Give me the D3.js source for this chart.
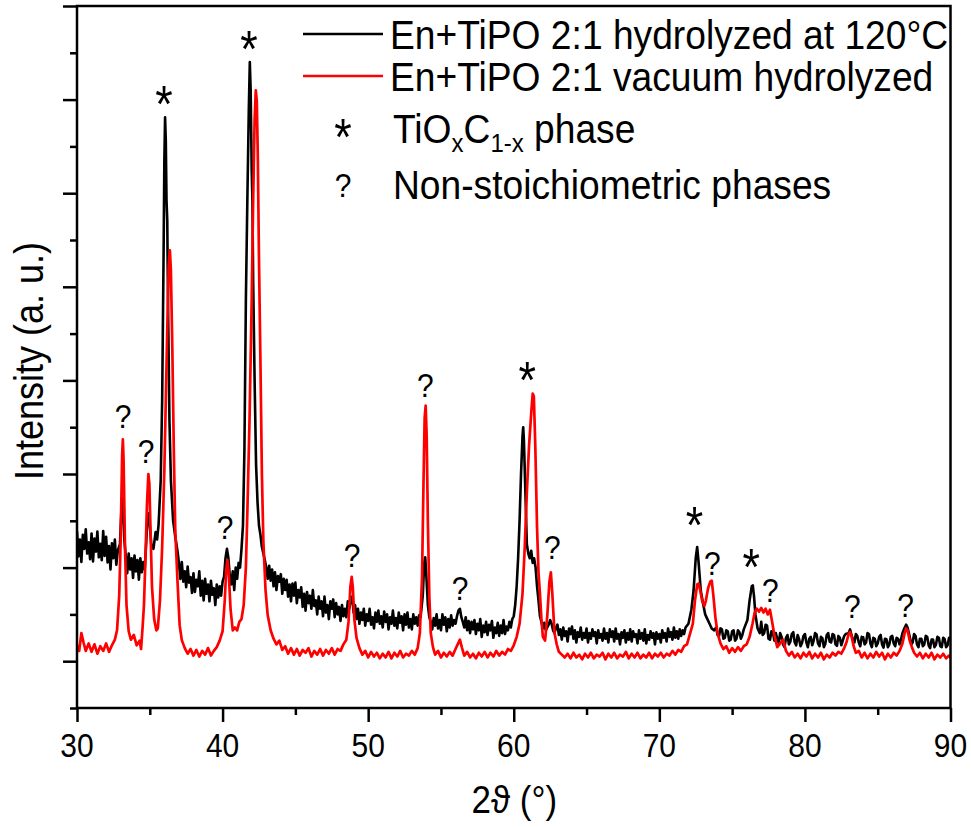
<!DOCTYPE html>
<html><head><meta charset="utf-8">
<script src="https://cdn.jsdelivr.net/npm/d3@7"></script>
<style>body{margin:0;background:#fff;} svg{display:block;font-family:"Liberation Sans",Arial,sans-serif;}</style>
</head><body><svg id="c" width="971" height="827"></svg>
<script>
// ---------- data ----------
const xMajorTicks = [30, 40, 50, 60, 70, 80, 90];
const xMinorTicks = [35, 45, 55, 65, 75, 85];
const yMajorTicks = [0, 1000, 2000, 3000, 4000, 5000, 6000, 7000];
const yMinorTicks = [-500, 500, 1500, 2500, 3500, 4500, 5500, 6500];
const seriesNames = ["En+TiPO 2:1 hydrolyzed at 120°C", "En+TiPO 2:1 vacuum hydrolyzed"];
const markerNames = ["*", "?"];

// [2θ (°), intensity (a.u.)]
const hydrolyzed120 = [
[30.0,1390],[30.1,1120],[30.2,1300],[30.3,1060],[30.4,1350],[30.5,1200],[30.6,1410],[30.7,1150],[30.8,1270],[30.9,1090],
[31.0,1365],[31.1,1065],[31.2,1310],[31.3,1170],[31.4,1385],[31.5,1110],[31.6,1255],[31.7,1080],[31.8,1390],[31.9,1125],
[32.0,1330],[32.1,1055],[32.2,1230],[32.3,980],[32.4,1260],[32.5,1100],[32.6,1300],[32.7,1030],[32.8,1180],
[32.95,1250],[33.05,1620],[33.1,1740],[33.15,1650],[33.25,1300],
[33.35,1120],[33.45,940],[33.55,1150],[33.65,980],[33.75,1100],[33.85,890],[33.95,1130],[34.05,960],[34.15,1080],[34.25,870],
[34.35,1100],[34.45,950],[34.55,1060],[34.65,980],[34.75,1250],[34.85,1560],[34.92,1580],
[35.0,1450],[35.1,1250],[35.25,1200],[35.4,1380],[35.5,1300],[35.6,1450],[35.75,1930],[35.85,2790],[35.95,4390],[36.0,5350],
[36.05,5810],[36.1,5565],[36.15,4920],[36.2,4710],[36.25,3855],[36.35,2575],[36.45,1930],[36.6,1505],[36.75,1330],[36.9,1180],
[37.0,1050],[37.1,880],[37.2,1060],[37.3,850],[37.4,960],[37.5,790],[37.6,1010],[37.7,840],[37.8,900],[37.9,730],
[38.0,940],[38.1,740],[38.2,870],[38.3,800],[38.4,960],[38.5,700],[38.6,860],[38.7,650],[38.8,880],[38.9,720],
[39.0,820],[39.1,640],[39.2,860],[39.3,710],[39.4,780],[39.5,600],[39.6,820],[39.7,680],[39.8,800],[39.9,700],
[40.0,850],[40.1,900],[40.2,1100],[40.3,1200],[40.4,1100],
[40.5,900],[40.6,820],[40.7,960],[40.8,760],[40.9,1000],[41.0,880],[41.1,1050],[41.2,1000],[41.3,1200],[41.4,1450],
[41.5,2255],[41.6,3855],[41.7,4920],[41.8,5885],[41.87,6400],[41.93,6100],[42.0,5245],[42.05,4920],[42.1,4070],[42.2,3000],
[42.3,2100],[42.4,1700],[42.5,1450],[42.6,1350],[42.7,1220],[42.8,1150],[42.9,1080],
[43.0,1000],[43.1,880],[43.2,1020],[43.3,860],[43.4,980],[43.5,800],[43.6,950],[43.7,760],[43.8,910],[43.9,850],
[44.0,930],[44.1,720],[44.2,880],[44.3,760],[44.4,870],[44.5,690],[44.6,820],[44.7,640],[44.8,830],[44.9,700],
[45.0,840],[45.1,620],[45.2,760],[45.3,680],[45.4,790],[45.5,580],[45.6,720],[45.7,540],[45.8,740],[45.9,620],
[46.0,700],[46.1,560],[46.2,760],[46.3,590],[46.4,650],[46.5,500],[46.6,690],[46.7,560],[46.8,640],[46.9,480],
[47.0,690],[47.1,520],[47.2,600],[47.3,450],[47.4,640],[47.5,560],[47.6,660],[47.7,470],[47.8,620],[47.9,500],
[48.0,580],[48.1,430],[48.2,600],[48.3,480],[48.4,560],[48.5,470],[48.6,640],[48.7,560],[48.8,650],[48.9,690],
[49.0,520],[49.1,600],[49.2,450],[49.3,560],[49.4,400],[49.5,520],[49.6,440],[49.7,560],[49.8,380],[49.9,500],
[50.0,430],[50.1,560],[50.2,390],[50.3,470],[50.4,350],[50.5,520],[50.6,420],[50.7,540],[50.8,400],[50.9,480],
[51.0,360],[51.1,530],[51.2,420],[51.3,500],[51.4,340],[51.5,470],[51.6,400],[51.7,540],[51.8,380],[51.9,460],
[52.0,350],[52.1,520],[52.2,410],[52.3,480],[52.4,330],[52.5,500],[52.6,390],[52.7,520],[52.8,360],[52.9,450],
[53.0,340],[53.1,500],[53.2,400],[53.3,470],[53.4,380],[53.5,490],[53.6,470],
[53.75,700],[53.85,1050],[53.92,1110],[54.0,900],[54.1,600],[54.2,470],[54.3,420],
[54.4,340],[54.5,460],[54.6,380],[54.7,500],[54.8,350],[54.9,440],[55.0,330],[55.1,500],[55.2,390],[55.3,470],
[55.4,320],[55.5,450],[55.6,360],[55.7,490],[55.8,380],[55.9,440],[56.0,400],[56.1,480],[56.2,540],[56.3,560],
[56.4,470],[56.5,420],[56.6,360],[56.7,470],[56.8,330],[56.9,430],[57.0,300],[57.1,420],[57.2,340],[57.3,440],
[57.4,290],[57.5,400],[57.6,330],[57.7,450],[57.8,260],[57.9,380],[58.0,310],[58.1,420],[58.2,280],[58.3,390],
[58.4,330],[58.5,430],[58.6,250],[58.7,360],[58.8,300],[58.9,410],[59.0,270],[59.1,380],[59.2,300],[59.3,440],
[59.4,290],[59.5,370],[59.6,330],[59.7,420],[59.8,360],[59.9,450],[60.0,480],[60.1,600],[60.2,800],
[60.3,1100],[60.4,1500],[60.5,2000],[60.6,2400],[60.65,2500],[60.7,2350],[60.8,1800],[60.9,1250],[61.0,1150],[61.1,1100],
[61.2,1180],[61.3,1050],[61.4,1100],[61.5,1000],[61.6,800],[61.7,650],[61.8,480],[61.9,420],[62.0,350],[62.1,410],
[62.2,330],[62.3,360],[62.4,390],[62.5,440],[62.6,400],[62.7,330],[62.8,300],[62.9,360],
[63.0,390],[63.1,280],[63.2,340],[63.3,230],[63.4,360],[63.5,270],[63.6,320],[63.7,210],[63.8,350],[63.9,290],
[64.0,370],[64.1,240],[64.2,330],[64.3,200],[64.4,310],[64.5,260],[64.6,360],[64.7,230],[64.8,300],[64.9,250],
[65.0,350],[65.1,200],[65.2,300],[65.3,240],[65.4,340],[65.5,270],[65.6,310],[65.7,190],[65.8,330],[65.9,250],
[66.0,290],[66.1,220],[66.2,350],[66.3,240],[66.4,300],[66.5,200],[66.6,340],[66.7,260],[66.8,320],[66.9,210],
[67.0,350],[67.1,240],[67.2,290],[67.3,180],[67.4,310],[67.5,250],[67.6,330],[67.7,200],[67.8,300],[67.9,230],
[68.0,340],[68.1,210],[68.2,320],[68.3,260],[68.4,290],[68.5,190],[68.6,330],[68.7,240],[68.8,300],[68.9,220],
[69.0,340],[69.1,190],[69.2,280],[69.3,230],[69.4,320],[69.5,250],[69.6,300],[69.7,180],[69.8,310],[69.9,240],
[70.0,290],[70.1,200],[70.2,330],[70.3,250],[70.4,300],[70.5,210],[70.6,350],[70.7,260],[70.8,310],[70.9,230],
[71.0,360],[71.1,250],[71.2,320],[71.3,240],[71.4,340],[71.5,270],[71.6,330],[71.7,290],[71.8,360],[72.0,400],
[72.2,550],[72.35,750],[72.5,1100],[72.6,1220],[72.7,1050],[72.85,750],[73.0,620],[73.15,500],[73.3,450],[73.45,400],
[73.6,350],[73.75,330],[73.9,360],[74.0,280],[74.1,270],[74.2,350],[74.3,340],[74.4,240],[74.5,250],[74.6,330],
[74.7,320],[74.8,220],[74.9,230],[75.0,320],[75.1,330],[75.2,220],[75.3,240],[75.4,330],
[75.5,310],[75.6,240],[75.7,280],[75.8,340],[75.9,380],[76.05,440],[76.2,650],[76.35,800],[76.42,810],[76.5,700],[76.6,500],[76.75,350],
[76.9,300],[77.0,420],[77.1,280],[77.2,300],[77.3,390],[77.4,380],[77.5,240],[77.6,230],[77.7,320],[77.8,310],
[77.9,220],[78.0,300],[78.1,240],[78.2,190],[78.3,300],[78.4,260],[78.5,180],[78.6,150],[78.7,250],
[78.8,280],[78.9,180],[79.0,210],[79.1,290],[79.2,310],[79.3,200],[79.4,170],[79.5,280],[79.6,235],[79.7,160],[79.8,195],[79.9,270],
[80.0,290],[80.1,200],[80.2,150],[80.3,240],[80.4,260],[80.5,170],[80.6,220],[80.7,300],
[80.8,285],[80.9,190],[81.0,160],[81.1,260],[81.2,245],[81.3,150],[81.4,185],[81.5,280],[81.6,300],[81.7,210],[81.8,200],[81.9,290],
[82.0,280],[82.1,180],[82.2,165],[82.3,270],[82.4,250],[82.5,170],[82.6,220],[82.7,270],
[82.8,290],[83.0,300],[83.1,340],[83.2,280],[83.3,230],[83.4,200],[83.5,290],[83.6,270],[83.7,200],[83.8,160],[83.9,260],[84.0,255],[84.1,180],[84.2,200],[84.3,300],[84.4,290],
[84.5,190],[84.6,150],[84.7,250],[84.8,240],[84.9,160],[85.0,190],[85.1,260],[85.2,280],[85.3,180],[85.4,145],[85.5,240],[85.6,235],[85.7,150],[85.8,180],[85.9,260],[86.0,270],[86.1,190],[86.2,160],[86.3,250],[86.4,240],
[86.5,180],[86.6,230],[86.7,300],[86.8,340],[86.95,390],[87.05,360],[87.2,260],[87.3,180],[87.4,200],[87.5,290],[87.6,270],[87.7,180],[87.8,150],[87.9,240],[88.0,240],[88.1,160],[88.2,180],
[88.3,270],[88.4,260],[88.5,170],[88.6,140],[88.7,230],[88.8,230],[88.9,150],[89.0,175],[89.1,260],[89.2,250],[89.3,160],[89.4,150],[89.5,250],[89.6,235],[89.7,150],[89.8,170],[89.9,250],[90.0,220]
];

const vacuumHydrolyzed = [
[30.0,170],[30.15,110],[30.3,300],[30.45,200],[30.6,110],[30.8,190],[31.0,100],[31.2,180],[31.4,80],[31.6,160],
[31.8,110],[32.0,190],[32.2,100],[32.4,170],[32.6,230],[32.75,330],[32.9,700],[33.0,1300],[33.1,2200],[33.15,2370],
[33.2,2150],[33.3,1200],[33.4,600],[33.55,320],[33.7,230],[33.9,280],[34.1,170],[34.3,220],[34.4,130],[34.5,350],
[34.6,600],[34.7,1100],[34.8,1650],[34.9,2000],[34.97,1900],[35.05,1400],[35.15,800],[35.3,450],[35.45,330],[35.55,350],
[35.7,650],[35.85,1220],[36.0,2040],[36.1,2790],[36.2,3535],[36.3,4230],[36.38,4390],[36.45,4175],[36.55,3320],[36.65,2255],
[36.75,1400],[36.9,865],[37.05,385],[37.2,225],[37.4,140],[37.6,80],[37.8,130],[38.0,60],[38.2,120],[38.4,50],
[38.6,110],[38.8,70],[39.0,140],[39.2,60],[39.4,110],[39.6,150],[39.8,220],[40.0,320],[40.15,650],[40.25,980],
[40.33,1080],[40.42,950],[40.55,550],[40.7,330],[40.85,360],[41.0,330],[41.15,420],[41.3,450],[41.45,600],[41.6,1000],
[41.7,1580],[41.85,2575],[42.0,3855],[42.1,4920],[42.2,5780],[42.28,6100],[42.35,5990],[42.42,5400],[42.5,4300],[42.6,3200],
[42.7,2000],[42.8,1290],[42.95,760],[43.1,490],[43.3,330],[43.5,240],[43.7,180],[43.9,220],[44.1,120],[44.3,160],
[44.5,80],[44.7,140],[44.9,70],[45.1,130],[45.3,60],[45.5,120],[45.7,90],[45.9,140],[46.1,50],[46.3,110],
[46.5,70],[46.7,130],[46.9,60],[47.1,120],[47.3,80],[47.5,140],[47.7,70],[47.9,130],[48.1,110],[48.3,180],
[48.5,230],[48.65,420],[48.78,800],[48.87,900],[48.95,780],[49.05,450],[49.2,250],[49.4,140],[49.6,70],[49.8,110],
[50.0,40],[50.2,100],[50.4,50],[50.6,90],[50.8,30],[51.0,80],[51.2,40],[51.4,100],[51.6,30],[51.8,90],
[52.0,50],[52.2,110],[52.4,40],[52.6,80],[52.8,60],[53.0,110],[53.2,70],[53.4,140],[53.55,300],[53.7,900],
[53.8,1900],[53.88,2600],[53.95,2730],[54.02,2400],[54.1,1500],[54.2,700],[54.3,300],[54.45,150],[54.6,70],[54.8,110],
[55.0,40],[55.2,90],[55.4,50],[55.6,100],[55.8,60],[56.0,130],[56.15,180],[56.3,230],[56.45,140],[56.6,60],
[56.8,100],[57.0,40],[57.2,80],[57.4,30],[57.6,90],[57.8,50],[58.0,100],[58.2,40],[58.4,90],[58.6,50],
[58.8,110],[59.0,60],[59.2,100],[59.4,70],[59.6,130],[59.8,110],[60.0,170],[60.2,260],[60.4,400],[60.6,720],
[60.75,1200],[60.9,1800],[61.05,2300],[61.2,2650],[61.3,2860],[61.38,2830],[61.48,2300],[61.6,1430],[61.7,950],[61.8,720],
[61.9,450],[62.0,260],[62.15,220],[62.3,480],[62.45,850],[62.55,950],[62.65,720],[62.8,300],[62.95,180],[63.1,100],
[63.3,70],[63.5,40],[63.7,80],[63.9,30],[64.1,90],[64.3,40],[64.5,70],[64.7,20],[64.9,80],[65.1,40],
[65.3,90],[65.5,30],[65.7,70],[65.9,50],[66.1,90],[66.3,20],[66.5,80],[66.7,40],[66.9,90],[67.1,30],
[67.3,70],[67.5,50],[67.7,100],[67.9,30],[68.1,80],[68.3,40],[68.5,90],[68.7,30],[68.9,70],[69.1,40],
[69.3,90],[69.5,30],[69.7,80],[69.9,50],[70.1,90],[70.3,40],[70.5,80],[70.7,60],[70.9,110],[71.1,70],
[71.3,120],[71.5,100],[71.7,160],[71.9,180],[72.1,290],[72.3,400],[72.45,650],[72.6,820],[72.7,830],[72.8,760],
[72.95,640],[73.1,590],[73.2,650],[73.35,780],[73.5,850],[73.6,860],[73.7,720],[73.85,470],[74.0,300],[74.2,190],
[74.4,130],[74.6,160],[74.8,90],[75.0,140],[75.2,100],[75.4,150],[75.6,110],[75.8,160],[76.0,180],[76.2,260],
[76.4,400],[76.55,520],[76.7,560],[76.85,530],[77.0,570],[77.15,520],[77.3,560],[77.45,500],[77.6,550],[77.75,420],
[77.9,280],[78.1,150],[78.3,190],[78.5,230],[78.7,110],[78.9,60],[79.1,100],[79.3,40],[79.5,80],[79.7,30],
[79.9,90],[80.1,50],[80.3,100],[80.5,30],[80.7,80],[80.9,40],[81.1,90],[81.3,20],[81.5,70],[81.7,40],
[81.9,90],[82.1,60],[82.3,100],[82.5,80],[82.7,140],[82.85,200],[83.0,290],[83.1,310],[83.2,270],[83.35,160],
[83.5,90],[83.7,110],[83.9,40],[84.1,90],[84.3,30],[84.5,80],[84.7,40],[84.9,100],[85.1,50],[85.3,90],
[85.5,20],[85.7,80],[85.9,40],[86.1,90],[86.3,60],[86.5,110],[86.7,190],[86.85,300],[86.95,350],[87.05,330],
[87.2,220],[87.35,150],[87.5,90],[87.7,50],[87.9,90],[88.1,30],[88.3,80],[88.5,40],[88.7,90],[88.9,20],
[89.1,70],[89.3,40],[89.5,80],[89.7,30],[89.9,60],[90.0,40]
];

// peak labels: [2θ, intensity at symbol centre, symbol]
const peakMarks = [
[33.16,2617,"?"],[34.74,2243,"?"],[35.98,6024,"*"],[40.17,1431,"?"],[41.82,6611,"*"],
[48.9,1132,"?"],[53.92,2948,"?"],[56.32,780,"?"],[60.93,3076,"*"],[62.65,1218,"?"],
[72.41,1527,"*"],[73.64,1047,"?"],[76.32,1079,"*"],[77.63,758,"?"],[83.26,587,"?"],[86.91,598,"?"]
];

// ---------- layout ----------
const L = 77, R = 950.5, T = 6, B = 708;
const SY = 1.1; // vertical stretch of the figure's lettering
const svg = d3.select("#c");
const x = d3.scaleLinear().domain([30, 90]).range([L, R]);
const y = d3.scaleLinear().domain([-500, 7000]).range([B, T]);

svg.append("defs").append("clipPath").attr("id", "clip")
  .append("rect").attr("x", L).attr("y", T).attr("width", R - L).attr("height", B - T);

function stext(g, px, py, str, size, anchor, rot, sy) {
  return g.append("text")
    .attr("transform", `translate(${px},${py})` + (rot ? ` rotate(${rot})` : "") + ` scale(1,${sy || SY})`)
    .attr("text-anchor", anchor || "start")
    .attr("font-size", size)
    .attr("fill", "#000")
    .text(str);
}

// axes ticks
const axG = svg.append("g");
axG.append("g").attr("transform", `translate(0,${B})`)
  .call(d3.axisBottom(x).tickValues(xMajorTicks).tickSize(14).tickFormat(""));
axG.append("g").attr("transform", `translate(0,${B})`)
  .call(d3.axisBottom(x).tickValues(xMinorTicks).tickSize(7).tickFormat(""));
axG.append("g").attr("transform", `translate(${L},0)`)
  .call(d3.axisLeft(y).tickValues(yMajorTicks).tickSize(14).tickFormat(""));
axG.append("g").attr("transform", `translate(${L},0)`)
  .call(d3.axisLeft(y).tickValues(yMinorTicks).tickSize(7).tickFormat(""));
axG.selectAll(".domain").remove();
axG.selectAll(".tick line").attr("stroke", "#000").attr("stroke-width", 2.5);

// tick labels
const lab = svg.append("g");
xMajorTicks.forEach(v => stext(lab, x(v), 757, String(v), 30, "middle", 0, 1.12));

// axis titles
stext(svg, (L + R) / 2 + 0.5, 813, "2\u03D1 (°)", 35, "middle");
stext(svg, 43, 361, "Intensity (a. u.)", 36, "middle", -90, 1.14);

// curves
const line = d3.line().x(d => x(d[0])).y(d => y(d[1]));
const plot = svg.append("g").attr("clip-path", "url(#clip)");
plot.append("path").datum(hydrolyzed120).attr("d", line)
  .attr("fill", "none").attr("stroke", "#000").attr("stroke-width", 2.6).attr("stroke-linejoin", "round");
plot.append("path").datum(vacuumHydrolyzed).attr("d", line)
  .attr("fill", "none").attr("stroke", "#ff0000").attr("stroke-width", 2.7).attr("stroke-linejoin", "round");

// peak symbols
const mk = svg.append("g");
function star(g, px, cy) { return stext(g, px, cy + 25, "*", 45, "middle", 0, 1.15); }
function quest(g, px, cy) { return stext(g, px, cy + 12, "?", 30, "middle", 0, 1.12); }
peakMarks.forEach(([a, v, s]) => {
  if (s === markerNames[0]) star(mk, x(a), y(v));
  else quest(mk, x(a), y(v));
});

// frame
svg.append("rect").attr("x", L).attr("y", T).attr("width", R - L).attr("height", B - T)
  .attr("fill", "none").attr("stroke", "#000").attr("stroke-width", 2.5);

// legend
const lg = svg.append("g");
lg.append("line").attr("x1", 303).attr("x2", 383).attr("y1", 34).attr("y2", 34).attr("stroke", "#000").attr("stroke-width", 2.5);
lg.append("line").attr("x1", 303).attr("x2", 383).attr("y1", 76).attr("y2", 76).attr("stroke", "#ff0000").attr("stroke-width", 2.5);
stext(lg, 390, 49, seriesNames[0], 37.2, "start");
stext(lg, 390, 91, seriesNames[1], 37.2, "start");
star(lg, 343, 130);
quest(lg, 343, 185);
const t3 = stext(lg, 393, 143, "", 37.2, "start");
t3.append("tspan").text("TiO");
t3.append("tspan").attr("font-size", 24).attr("dy", 8).text("x");
t3.append("tspan").attr("dy", -8).text("C");
t3.append("tspan").attr("font-size", 24).attr("dy", 8).text("1-x");
t3.append("tspan").attr("dy", -8).text(" phase");
stext(lg, 393, 199, "Non-stoichiometric phases", 37.2, "start");
</script>
</body></html>
